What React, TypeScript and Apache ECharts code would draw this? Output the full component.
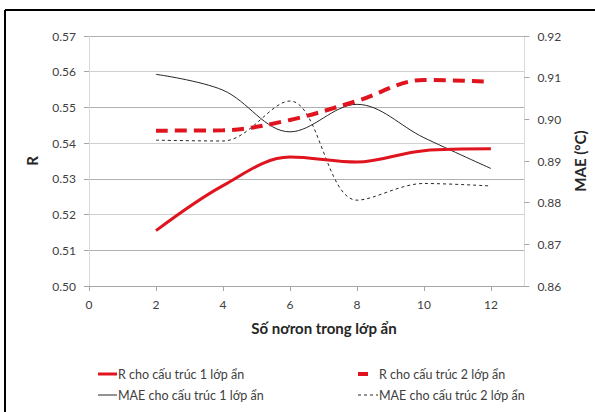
import React, { useEffect, useRef } from "react";
import * as echarts from "echarts";

const neurons = [2, 4, 6, 8, 10, 12];
const r1 = [0.5155, 0.5281, 0.5361, 0.5347, 0.5379, 0.5384];
const r2 = [0.5435, 0.5436, 0.5465, 0.5518, 0.5577, 0.5572];
const mae1 = [0.9108, 0.907, 0.897, 0.9036, 0.8956, 0.8882];
const mae2 = [0.895, 0.8948, 0.9044, 0.8806, 0.8846, 0.884];
const seriesNames = [
  "R cho cấu trúc 1 lớp ẩn",
  "R cho cấu trúc 2 lớp ẩn",
  "MAE cho cấu trúc 1 lớp ẩn",
  "MAE cho cấu trúc 2 lớp ẩn",
];
const xTitle = "Số nơron trong lớp ẩn";
const leftTitle = "R";
const rightTitle = "MAE (°C)";

const FONT = "Lato, 'Open Sans', sans-serif";
const RED = "#e0141e";
const DARK = "#262626";
const TXT = "#404040";
const SMOOTH = 0.35;

const pairs = (ys: number[]) => neurons.map((x, i) => [x, ys[i]]);

export default function App() {
  const ref = useRef<HTMLDivElement>(null);
  useEffect(() => {
    if (!ref.current) return;
    const chart = echarts.init(ref.current, null, { renderer: "svg" });
    const labelStyle = { color: TXT, fontFamily: FONT, fontSize: 12 };
    const titleStyle = { color: "#262626", fontFamily: FONT, fontSize: 15, fontWeight: "bold" };
    chart.setOption({
      animation: false,
      backgroundColor: "#ffffff",
      grid: { left: 89, right: 68, top: 36, bottom: 126 },
      xAxis: {
        type: "value",
        min: 0,
        max: 13,
        interval: 2,
        axisLine: { show: true, lineStyle: { color: "#a6a6a6", width: 1 } },
        axisTick: { show: true, length: 5, lineStyle: { color: "#a6a6a6" } },
        axisLabel: { ...labelStyle, margin: 12, showMaxLabel: false },
        splitLine: { show: false },
      },
      yAxis: [
        {
          type: "value",
          min: 0.5,
          max: 0.57,
          interval: 0.01,
          name: leftTitle,
          nameLocation: "middle",
          nameGap: 50,
          nameRotate: 90,
          nameTextStyle: titleStyle,
          axisLine: { show: true, lineStyle: { color: "#d9d9d9" } },
          axisTick: { show: true, length: 5, lineStyle: { color: "#a6a6a6" } },
          axisLabel: { ...labelStyle, margin: 13, formatter: (v: number) => v.toFixed(2) },
          splitLine: { show: true, lineStyle: { color: ["#d0d0d0", "#b0b0b0"], width: 1 } },
        },
        {
          type: "value",
          min: 0.86,
          max: 0.92,
          interval: 0.01,
          position: "right",
          name: rightTitle,
          nameLocation: "middle",
          nameGap: 47,
          nameRotate: 90,
          nameTextStyle: titleStyle,
          axisLine: { show: true, lineStyle: { color: "#d9d9d9" } },
          axisTick: { show: true, length: 5, lineStyle: { color: "#a6a6a6" } },
          axisLabel: { ...labelStyle, margin: 13, formatter: (v: number) => v.toFixed(2) },
          splitLine: { show: false },
        },
      ],
      series: [
        {
          name: seriesNames[0],
          type: "line",
          yAxisIndex: 0,
          data: pairs(r1),
          smooth: SMOOTH,
          symbol: "none",
          lineStyle: { color: RED, width: 3 },
          z: 4,
        },
        {
          name: seriesNames[1],
          type: "line",
          yAxisIndex: 0,
          data: pairs(r2),
          smooth: SMOOTH,
          symbol: "none",
          lineStyle: { color: RED, width: 4, type: [12, 7] },
          z: 4,
        },
        {
          name: seriesNames[2],
          type: "line",
          yAxisIndex: 1,
          data: pairs(mae1),
          smooth: SMOOTH,
          symbol: "none",
          lineStyle: { color: DARK, width: 1 },
          z: 3,
        },
        {
          name: seriesNames[3],
          type: "line",
          yAxisIndex: 1,
          data: pairs(mae2),
          smooth: SMOOTH,
          symbol: "none",
          lineStyle: { color: DARK, width: 1, type: [3, 3] },
          z: 3,
        },
      ],
      graphic: [
        { type: "line", shape: { x1: 5, y1: 10, x2: 595, y2: 10 }, style: { stroke: "#000", lineWidth: 2 } },
        { type: "line", shape: { x1: 5, y1: 10, x2: 5, y2: 412 }, style: { stroke: "#000", lineWidth: 2 } },
        {
          type: "text",
          x: 324,
          y: 328,
          style: {
            text: xTitle,
            fill: "#262626",
            font: `bold 15px ${FONT}`,
            textAlign: "center",
            textVerticalAlign: "middle",
          },
        },
        { type: "line", shape: { x1: 98, y1: 374, x2: 117, y2: 374 }, style: { stroke: RED, lineWidth: 3 } },
        {
          type: "text",
          x: 118,
          y: 374,
          style: { text: seriesNames[0], fill: TXT, font: `12.5px ${FONT}`, textVerticalAlign: "middle" },
        },
        { type: "line", shape: { x1: 358, y1: 374, x2: 368, y2: 374 }, style: { stroke: RED, lineWidth: 4 } },
        {
          type: "text",
          x: 379,
          y: 374,
          style: { text: seriesNames[1], fill: TXT, font: `12.5px ${FONT}`, textVerticalAlign: "middle" },
        },
        { type: "line", shape: { x1: 98, y1: 395, x2: 117, y2: 395 }, style: { stroke: DARK, lineWidth: 1 } },
        {
          type: "text",
          x: 118,
          y: 395,
          style: { text: seriesNames[2], fill: TXT, font: `12.5px ${FONT}`, textVerticalAlign: "middle" },
        },
        {
          type: "line",
          shape: { x1: 358, y1: 395, x2: 378, y2: 395 },
          style: { stroke: DARK, lineWidth: 1, lineDash: [3, 3] },
        },
        {
          type: "text",
          x: 379,
          y: 395,
          style: { text: seriesNames[3], fill: TXT, font: `12.5px ${FONT}`, textVerticalAlign: "middle" },
        },
      ],
    });
    return () => chart.dispose();
  }, []);
  return (
    <div
      ref={ref}
      style={{ position: "fixed", left: 0, top: 0, width: 595, height: 412, background: "#fff" }}
    />
  );
}
